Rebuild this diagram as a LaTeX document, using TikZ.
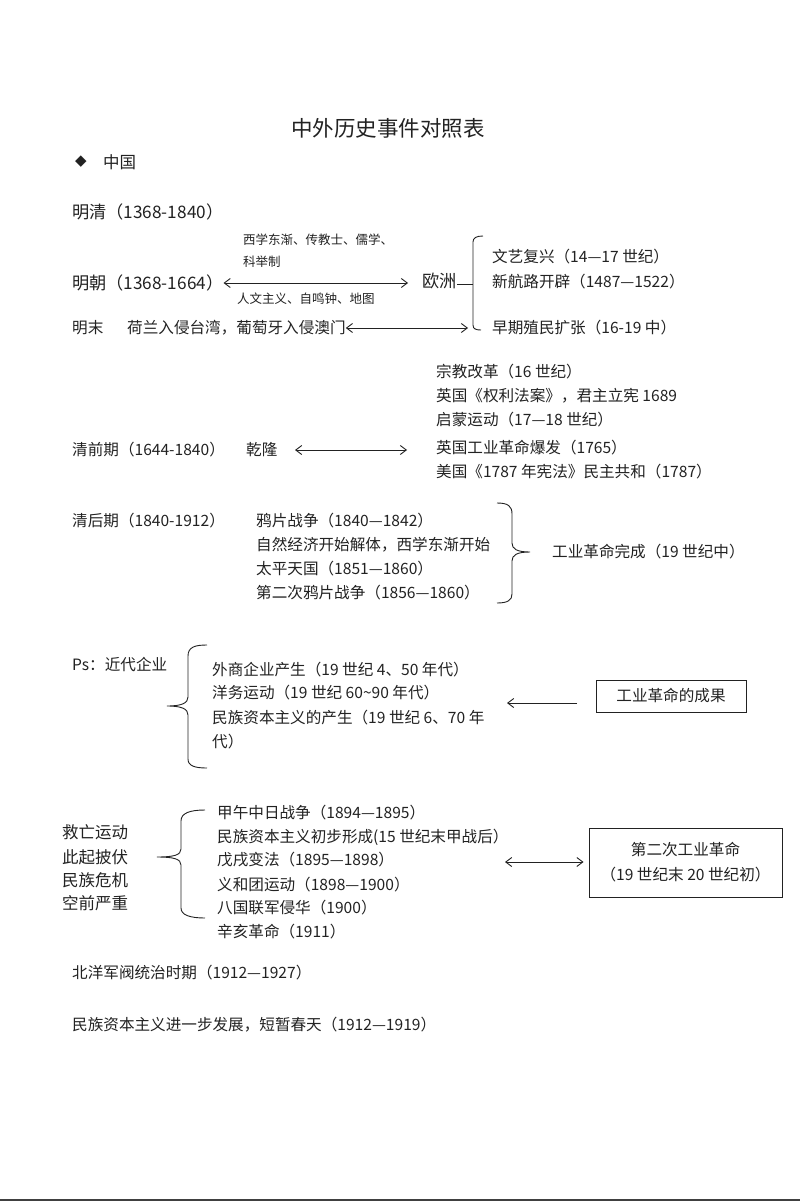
\documentclass[tikz,border=0pt]{standalone}
\usepackage{fontspec}
\setmainfont{Noto Sans CJK SC}
\newfontfamily\dejavu{DejaVu Sans}
\usetikzlibrary{arrows.meta}
\definecolor{ink}{HTML}{222222}
\begin{document}
\begin{tikzpicture}[x=1pt,y=-1pt,
  every node/.style={text=ink},
  txt/.style={anchor=west,inner sep=0pt,font=\fontsize{15.6}{18}\selectfont},
  big/.style={anchor=west,inner sep=0pt,font=\fontsize{16.5}{19}\selectfont},
  bigger/.style={anchor=west,inner sep=0pt,font=\fontsize{17.2}{20}\selectfont},
  small/.style={anchor=west,inner sep=0pt,font=\fontsize{12.5}{15}\selectfont},
  conn/.style={draw=ink,line width=0.9pt},
  dbl/.style={conn,{Straight Barb[length=6pt,width=9pt]}-{Straight Barb[length=6pt,width=9pt]}},
  sgl/.style={conn,-{Straight Barb[length=6pt,width=9pt]}},
  boxed/.style={draw=ink,line width=0.9pt,inner sep=0pt,font=\fontsize{15.6}{25}\selectfont,align=center}
]
\useasboundingbox[fill=white] (0,0) rectangle (800,1201);
\fill[black!75] (0,1198.5) rectangle (800,1201);

% title
\node[inner sep=0pt,font=\fontsize{21.5}{24}\selectfont] (title) at (388,128) {中外历史事件对照表};
\node[inner sep=0pt,font=\dejavu\fontsize{15}{18}\selectfont] (diam) at (81,162) {◆};
\node[big] (zg) at (103,162) {中国};

% Ming Qing
\node[bigger] (mq) at (72,212) {明清（1368-1840）};
\node[small] (w1) at (243,240) {西学东渐、传教士、儒学、};
\node[small] (w2) at (243,262) {科举制};
\node[bigger] (mc) at (72,283) {明朝（1368-1664）};
\node[small] (w3) at (237,299) {人文主义、自鸣钟、地图};
\node[bigger] (oz) at (422,281) {欧洲};
\coordinate (a2) at (408,283);
\draw[dbl] (mc.east |- a2) -- (a2);

% Europe bracket
\draw[conn] (oz.east |- 0,284) -- (473,284);
\draw[conn] (483,236) .. controls (476,236) and (473,238) .. (473,242) -- (473,325) .. controls (473,329) and (476,330) .. (481,330);
\node[txt] (e1) at (492,257) {文艺复兴（14—17 世纪）};
\node[txt] (e2) at (492,282) {新航路开辟（1487—1522）};
\node[txt] (e3) at (492,328) {早期殖民扩张（16-19 中）};

\node[txt] (mm) at (72,328) {明末};
\node[txt] (mm2) at (127,328) {荷兰入侵台湾，葡萄牙入侵澳门};
\coordinate (b2) at (468,328);
\draw[dbl] (mm2.east) -- (b2);

% Qing early
\node[txt] (q1) at (436,372) {宗教改革（16 世纪）};
\node[txt] (q2) at (436,396) {英国《权利法案》，君主立宪 1689};
\node[txt] (q3) at (436,420) {启蒙运动（17—18 世纪）};
\node[txt] (q4) at (436,448) {英国工业革命爆发（1765）};
\node[txt] (q5) at (436,472) {美国《1787 年宪法》民主共和（1787）};
\node[txt] (qq) at (72,450) {清前期（1644-1840）};
\node[txt] (ql) at (246,450) {乾隆};
\coordinate (f1) at (295,450);
\coordinate (f2) at (407,450);
\draw[dbl] (f1) -- (f2);

% Qing late
\node[txt] (qh) at (72,521) {清后期（1840-1912）};
\node[txt] (h1) at (256,521) {鸦片战争（1840—1842）};
\node[txt] (h2) at (256,545) {自然经济开始解体，西学东渐开始};
\node[txt] (h3) at (256,569) {太平天国（1851—1860）};
\node[txt] (h4) at (256,593) {第二次鸦片战争（1856—1860）};
\draw[conn] (497,503) .. controls (508,503) and (512,506) .. (512,514) -- (512,543)
  .. controls (512,549) and (517,552) .. (530,552)
  .. controls (517,552) and (512,555) .. (512,561) -- (512,594)
  .. controls (512,600) and (508,603) .. (497,603);
\node[txt] (gm) at (552,552) {工业革命完成（19 世纪中）};

% Ps
\node[txt] (ps) at (72,665) {Ps：近代企业};
\draw[conn] (207,645) .. controls (195,645) and (188,647) .. (188,656) -- (188,697)
  .. controls (188,703) and (182,706) .. (167,706)
  .. controls (182,706) and (188,709) .. (188,715) -- (188,759)
  .. controls (188,766) and (195,768) .. (207,768);
\node[txt] (p1) at (212,670) {外商企业产生（19 世纪 4、50 年代）};
\node[txt] (p2) at (212,693) {洋务运动（19 世纪 60\char"007E 90 年代）};
\node[txt] (p3) at (212,718) {民族资本主义的产生（19 世纪 6、70 年};
\node[txt] (p4) at (212,742) {代）};
\node[boxed,minimum width=150pt,minimum height=32pt] (box1) at (671,696) {工业革命的成果};
\coordinate (c1) at (577,703);
\coordinate (c2) at (507,703);
\draw[sgl] (c1) -- (c2);

% Jiuwang
\node[big] (j1) at (62,832) {救亡运动};
\node[big] (j2) at (62,857) {此起披伏};
\node[big] (j3) at (62,880) {民族危机};
\node[big] (j4) at (62,903) {空前严重};
\draw[conn] (205,810) .. controls (190,810) and (181,813) .. (181,821) -- (181,849)
  .. controls (181,855) and (174,857) .. (157,857)
  .. controls (174,857) and (181,859) .. (181,865) -- (181,908)
  .. controls (181,915) and (190,918) .. (205,918);
\node[txt] (k1) at (217,813) {甲午中日战争（1894—1895）};
\node[txt] (k2) at (217,837) {民族资本主义初步形成(15 世纪末甲战后）};
\node[txt] (k3) at (217,860) {戊戌变法（1895—1898）};
\node[txt] (k4) at (217,885) {义和团运动（1898—1900）};
\node[txt] (k5) at (217,908) {八国联军侵华（1900）};
\node[txt] (k6) at (217,932) {辛亥革命（1911）};
\node[boxed,minimum width=193pt,minimum height=69pt] (box2) at (685.5,862.5) {第二次工业革命\\（19 世纪末 20 世纪初）};
\coordinate (d1) at (505,862);
\draw[dbl] (d1) -- ([xshift=-5pt]box2.west |- d1);

% bottom
\node[txt] (by) at (72,973) {北洋军阀统治时期（1912—1927）};
\node[txt] (mz) at (72,1025) {民族资本主义进一步发展，短暂春天（1912—1919）};
\end{tikzpicture}
\end{document}
